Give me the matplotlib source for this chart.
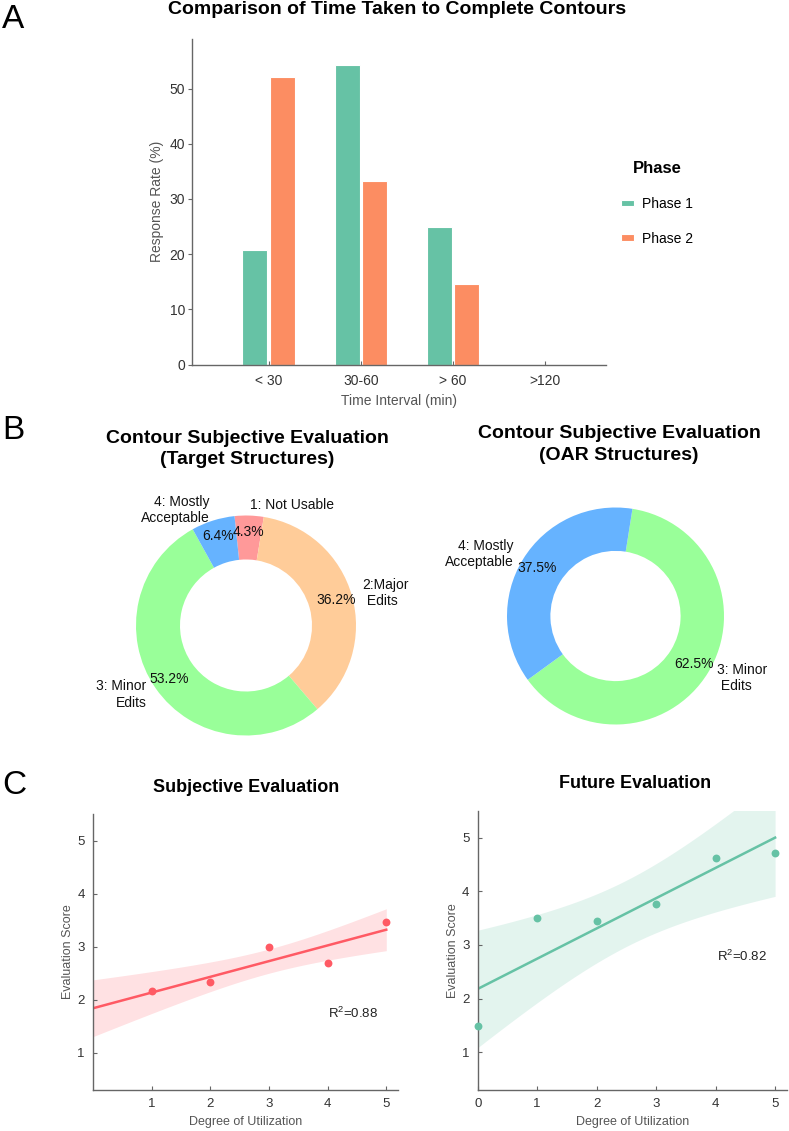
import matplotlib
matplotlib.use('Agg')
import matplotlib.pyplot as plt
import numpy as np

plt.rcParams['font.family'] = ['Liberation Sans', 'DejaVu Sans']
plt.rcParams['mathtext.default'] = 'regular'

# panel A data
time_bins = ['< 30', '30-60', '> 60', '>120']
phase1 = [20.8, 54.2, 25.0, 0.0]
phase2 = [52.1, 33.3, 14.6, 0.0]
phase_names = ['Phase 1', 'Phase 2']
phase_colors = ['#66c2a5', '#fc8d62']

# panel B data
target_labels = ['1: Not Usable', '2:Major\n Edits', '3: Minor\nEdits', '4: Mostly\nAcceptable']
target_counts = [2, 17, 25, 3]
target_colors = ['#ff9999', '#ffcc99', '#99ff99', '#66b3ff']
oar_labels = ['3: Minor\n Edits', '4: Mostly\nAcceptable']
oar_counts = [5, 3]
oar_colors = ['#99ff99', '#66b3ff']

# panel C data
subj_x = [1, 2, 3, 4, 5]
subj_y = [2.16, 2.33, 3.0, 2.69, 3.46]
subj_r2 = 'R$^2$=0.88'
fut_x = [0, 1, 2, 3, 4, 5]
fut_y = [1.5, 3.5, 3.45, 3.76, 4.62, 4.71]
fut_r2 = 'R$^2$=0.82'

W, H = 789, 1131
fig = plt.figure(figsize=(W / 100, H / 100), dpi=100)


def px_axes(x0, y0, x1, y1):
    # pixel box -> figure fraction
    return fig.add_axes([x0 / W, 1 - y1 / H, (x1 - x0) / W, (y1 - y0) / H])


def style_axes(ax):
    for s in ['top', 'right']:
        ax.spines[s].set_visible(False)
    for s in ['left', 'bottom']:
        ax.spines[s].set_color('#666666')
        ax.spines[s].set_linewidth(1.0)


# ---------- A: bars ----------
ax = px_axes(192, 39, 606, 364.5)
style_axes(ax)
x = np.arange(len(time_bins))
b1 = ax.bar(x - 0.148, phase1, 0.27, color=phase_colors[0], edgecolor='white',
            linewidth=0.8, label=phase_names[0])
b2 = ax.bar(x + 0.148, phase2, 0.27, color=phase_colors[1], edgecolor='white',
            linewidth=0.8, label=phase_names[1])
ax.set_xlim(-0.83, 3.66)
ax.set_ylim(0, 59)
ax.set_xticks(x)
ax.set_xticklabels(time_bins)
ax.set_yticks([0, 10, 20, 30, 40, 50])
ax.tick_params(axis='x', direction='in', length=3, pad=7, color='#666666',
               labelcolor='#333333', labelsize=10)
ax.tick_params(axis='y', direction='out', length=3, pad=2, color='#666666',
               labelcolor='#333333', labelsize=10)
ax.set_xlabel('Time Interval (min)', fontsize=10, color='#555555', labelpad=4)
ax.set_ylabel('Response Rate (%)', fontsize=10, color='#555555', labelpad=4)
ax.legend(handles=[b1, b2], title='Phase', loc='upper left',
          bbox_to_anchor=(621 / W, 1 - 161 / H), bbox_transform=fig.transFigure,
          frameon=False, fontsize=10, title_fontproperties={'weight': 'bold', 'size': 12},
          handlelength=0.95, handleheight=0.35, handletextpad=0.55, labelspacing=1.5,
          borderpad=0, borderaxespad=0)

fig.text(397.5 / W, 1 - 9 / H, 'Comparison of Time Taken to Complete Contours',
         ha='center', va='center', fontsize=14, weight='bold')

# ---------- B: donuts ----------
def donut(cx, cy, r, counts, labels, colors, start, title, tx, ty):
    half = 150
    a = px_axes(cx - half, cy - half, cx + half, cy + half)
    a.pie(counts, labels=labels, colors=colors, startangle=start, counterclock=False,
          autopct='%1.1f%%', pctdistance=0.85, labeldistance=1.1,
          wedgeprops={'width': 0.4}, textprops={'fontsize': 10, 'color': '#111111'})
    lim = half / r
    a.set_xlim(-lim, lim)
    a.set_ylim(-lim, lim)
    a.set_aspect('equal')
    fig.text(tx / W, 1 - ty / H, title, ha='center', va='center', fontsize=14,
             weight='bold', linespacing=1.35)


donut(246, 625.5, 110, target_counts, target_labels, target_colors, 96,
      'Contour Subjective Evaluation\n(Target Structures)', 247.5, 449)
donut(615.5, 616, 108.5, oar_counts, oar_labels, oar_colors, 81,
      'Contour Subjective Evaluation\n(OAR Structures)', 619, 444.5)

# ---------- C: regressions ----------
def reg_panel(box, xs, ys, color, ci_mult, xticks, r2, r2pos, title, tpos):
    a = px_axes(*box)
    style_axes(a)
    xs = np.asarray(xs, float)
    ys = np.asarray(ys, float)
    slope, icpt = np.polyfit(xs, ys, 1)
    resid = ys - (slope * xs + icpt)
    s = np.sqrt(np.sum(resid ** 2) / (len(xs) - 2))
    sxx = np.sum((xs - xs.mean()) ** 2)
    grid = np.linspace(0, 5, 100)
    fit = slope * grid + icpt
    se = s * np.sqrt(1 / len(xs) + (grid - xs.mean()) ** 2 / sxx)
    a.fill_between(grid, fit - ci_mult * se, fit + ci_mult * se, color=color,
                   alpha=0.18, lw=0)
    a.plot(grid, fit, color=color, lw=1.8)
    a.scatter(xs, ys, s=32, color=color, zorder=3, linewidths=0, clip_on=False)
    a.set_xlim(0, 5.2)
    a.set_ylim(0.3, 5.5)
    a.set_xticks(xticks)
    a.set_yticks([1, 2, 3, 4, 5])
    a.tick_params(direction='in', length=3, pad=6, color='#666666',
                  labelcolor='#333333', labelsize=9.5)
    a.set_xlabel('Degree of Utilization', fontsize=9, color='#555555', labelpad=4)
    a.set_ylabel('Evaluation Score', fontsize=9, color='#555555', labelpad=2)
    a.text(r2pos[0], r2pos[1], r2, fontsize=9.5, va='center', ha='left', color='#222222')
    fig.text(tpos[0] / W, 1 - tpos[1] / H, title, ha='center', va='center',
             fontsize=13, weight='bold')


reg_panel((93, 814, 398, 1090), subj_x, subj_y, '#ff5a64', 1.9, [1, 2, 3, 4, 5],
          subj_r2, (4.0, 1.75), 'Subjective Evaluation', (246.5, 788))
reg_panel((477.7, 810.7, 787, 1090), fut_x, fut_y, '#66c2a5', 2.776, [0, 1, 2, 3, 4, 5],
          fut_r2, (4.02, 2.78), 'Future Evaluation', (634.6, 784))

# panel letters
for letter, ly in [('A', 20), ('B', 430.5), ('C', 785.5)]:
    fig.text(2 / W, 1 - ly / H, letter, ha='left', va='center', fontsize=24)

fig.savefig('out.png', dpi=100)
